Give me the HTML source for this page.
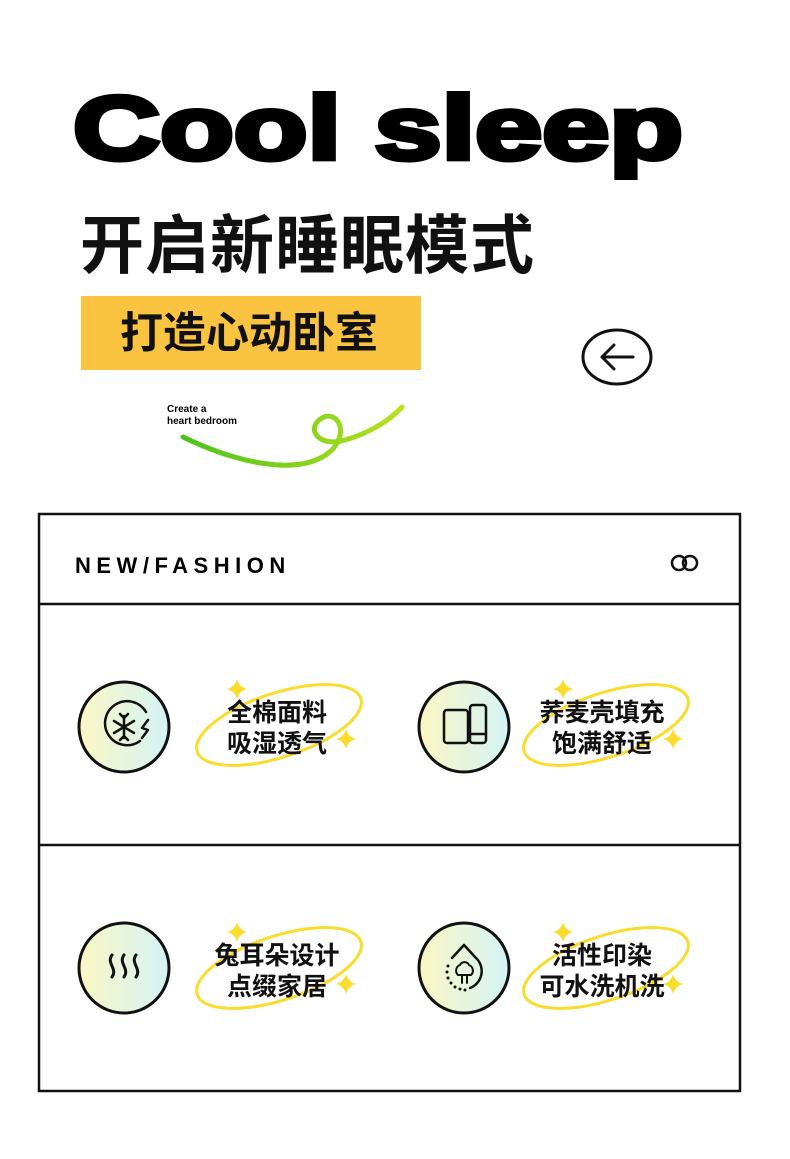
<!DOCTYPE html>
<html><head><meta charset="utf-8"><style>
body{margin:0;background:#fff;width:790px;height:1159px;overflow:hidden;position:relative;font-family:"Liberation Sans","Noto Sans CJK SC",sans-serif}
.a{position:absolute}
.cn{font-family:"Liberation Sans","Noto Sans CJK SC",sans-serif;font-weight:700;color:#111}
</style></head><body>
<svg class="a" style="left:0;top:0" width="790" height="1159">
<defs>
<linearGradient id="g" x1="0" x2="1"><stop offset="0" stop-color="#fbf6c4"/><stop offset="1" stop-color="#d4f3f6"/></linearGradient>
<linearGradient id="gl" x1="0" x2="1"><stop offset="0" stop-color="#4cc21a"/><stop offset="1" stop-color="#b8e21e"/></linearGradient>
<g id="star"><path d="M0,-10 Q2,-2 10,0 Q2,2 0,10 Q-2,2 -10,0 Q-2,-2 0,-10Z" fill="#f9dc2c"/></g>
</defs>
<text x="73" y="159" font-family="Liberation Sans" font-weight="900" font-size="90" textLength="610" lengthAdjust="spacingAndGlyphs" stroke="#000" stroke-width="5" fill="#000">Cool sleep</text>
<rect x="81" y="296" width="340" height="74" fill="#fac440"/>
<ellipse cx="617" cy="357" rx="34" ry="27" fill="none" stroke="#111" stroke-width="3"/>
<path d="M633,357H602M614,345L602,357L614,369" fill="none" stroke="#111" stroke-width="3" stroke-linecap="round" stroke-linejoin="round"/>
<text x="167" y="412" font-size="10" font-weight="700" font-family="Liberation Sans">Create a</text>
<text x="167" y="424" font-size="10" font-weight="700" font-family="Liberation Sans">heart bedroom</text>
<path d="M183,437 C230,460 300,480 332,450 C350,430 336,410 322,418 C305,428 318,448 345,440 C370,433 390,420 402,407" fill="none" stroke="url(#gl)" stroke-width="5" stroke-linecap="round"/>
<rect x="39" y="514" width="701" height="577" fill="none" stroke="#111" stroke-width="2.5"/>
<line x1="39" y1="604" x2="740" y2="604" stroke="#111" stroke-width="2.5"/>
<line x1="39" y1="845" x2="740" y2="845" stroke="#111" stroke-width="2.5"/>
<text x="75" y="573" font-size="22" font-weight="700" letter-spacing="5.5" font-family="Liberation Sans">NEW/FASHION</text>
<circle cx="679" cy="563" r="7" fill="none" stroke="#111" stroke-width="2.5"/>
<circle cx="690" cy="563" r="7" fill="none" stroke="#111" stroke-width="2.5"/>
<g fill="url(#g)" stroke="#111" stroke-width="3">
<circle cx="124" cy="727" r="45"/><circle cx="464" cy="727" r="45"/>
<circle cx="124" cy="968" r="45"/><circle cx="464" cy="968" r="45"/>
</g>
<g fill="none" stroke="#f9dc2c" stroke-width="3">
<ellipse cx="279" cy="725" rx="86" ry="32" transform="rotate(-18 279 725)"/>
<ellipse cx="606" cy="725" rx="86" ry="32" transform="rotate(-18 606 725)"/>
<ellipse cx="279" cy="968" rx="86" ry="32" transform="rotate(-18 279 968)"/>
<ellipse cx="606" cy="968" rx="86" ry="32" transform="rotate(-18 606 968)"/>
</g>
<use href="#star" x="237" y="689"/><use href="#star" x="346" y="739"/>
<use href="#star" x="563" y="689"/><use href="#star" x="673" y="739"/>
<use href="#star" x="237" y="932"/><use href="#star" x="346" y="984"/>
<use href="#star" x="563" y="932"/><use href="#star" x="673" y="984"/>
<g fill="none" stroke="#111" stroke-width="2.5" stroke-linecap="round" stroke-linejoin="round">
<path d="M140,741 A22,22 0 1 1 146,712"/><path d="M148,720 L142,728 L148,730 L142,738"/>
<path d="M124,716V738M114,721L134,733M114,733L134,721M120,714L124,718L128,714M120,740L124,736L128,740"/>
<rect x="444" y="710" width="24" height="33" rx="3"/><rect x="470" y="705" width="16" height="38" rx="3"/><line x1="470" y1="734" x2="486" y2="734"/>
<path d="M112,955 c-6,8 6,14 0,22 M124,955 c-6,8 6,14 0,22 M136,955 c-6,8 6,14 0,22" stroke-width="3"/>
<path d="M452,958 L464,945 L476,958 A18,18 0 0 1 470,988"/>
<path d="M458,975 a6,6 0 0 1 2,-10 a5,5 0 0 1 9,0 a6,6 0 0 1 2,10 Z M462,975V983M467,975V983" stroke-width="2"/>
</g>
<g fill="#111"><circle cx="448" cy="966" r="1.5"/><circle cx="447" cy="972" r="1.5"/><circle cx="448" cy="978" r="1.5"/><circle cx="451" cy="983" r="1.5"/><circle cx="455" cy="987" r="1.5"/><circle cx="460" cy="989" r="1.5"/><circle cx="465" cy="990" r="1.5"/></g>
</svg>
<div class="a cn" style="left:80px;top:206px;font-size:64px;letter-spacing:1px;line-height:80px">开启新睡眠模式</div>
<div class="a cn" style="left:120px;top:306px;font-size:43px;line-height:56px">打造心动卧室</div>
<div class="a cn" style="left:217px;top:698px;font-size:25px;line-height:31px;text-align:center;width:120px">全棉面料<br>吸湿透气</div>
<div class="a cn" style="left:532px;top:698px;font-size:25px;line-height:31px;text-align:center;width:140px">荞麦壳填充<br>饱满舒适</div>
<div class="a cn" style="left:207px;top:941px;font-size:25px;line-height:31px;text-align:center;width:140px">兔耳朵设计<br>点缀家居</div>
<div class="a cn" style="left:532px;top:941px;font-size:25px;line-height:31px;text-align:center;width:140px">活性印染<br>可水洗机洗</div>
</body></html>
